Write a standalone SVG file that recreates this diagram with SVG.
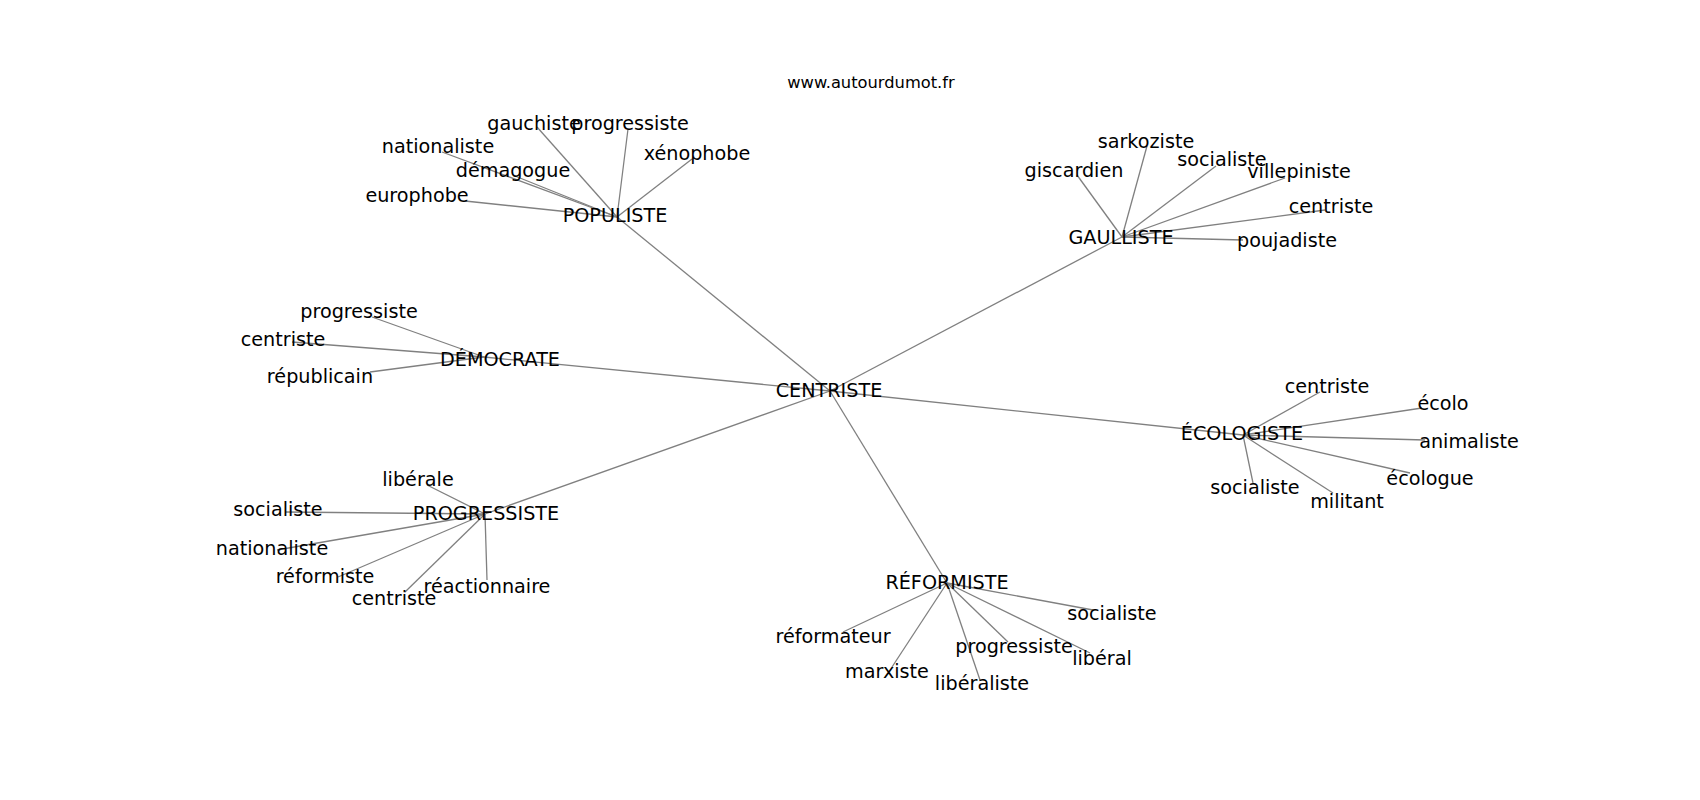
<svg xmlns="http://www.w3.org/2000/svg" width="1700" height="800" viewBox="0 0 1700 800">
<style>
text{font-family:"DejaVu Sans","Liberation Sans",sans-serif;font-size:19.2px;fill:#000;text-anchor:middle}
.title{font-size:16.3px}
#edges line{stroke:#808080;stroke-width:1.3}
</style>
<rect width="1700" height="800" fill="#fff"/>
<text class="title" x="871" y="88">www.autourdumot.fr</text>
<g id="edges">
<line x1="830" y1="391" x2="617" y2="217"/>
<line x1="830" y1="391" x2="1122" y2="237"/>
<line x1="830" y1="391" x2="484" y2="357"/>
<line x1="830" y1="391" x2="1243" y2="435"/>
<line x1="830" y1="391" x2="485" y2="514"/>
<line x1="830" y1="391" x2="947" y2="583"/>
<line x1="617" y1="217" x2="537" y2="127"/>
<line x1="617" y1="217" x2="628" y2="129"/>
<line x1="617" y1="217" x2="442" y2="152"/>
<line x1="617" y1="217" x2="692" y2="159"/>
<line x1="617" y1="217" x2="515" y2="176"/>
<line x1="617" y1="217" x2="465" y2="201"/>
<line x1="1122" y1="237" x2="1147" y2="146"/>
<line x1="1122" y1="237" x2="1077" y2="175"/>
<line x1="1122" y1="237" x2="1216" y2="166"/>
<line x1="1122" y1="237" x2="1285" y2="178"/>
<line x1="1122" y1="237" x2="1325" y2="210"/>
<line x1="1122" y1="237" x2="1243" y2="240"/>
<line x1="484" y1="357" x2="372" y2="317"/>
<line x1="484" y1="357" x2="292" y2="342"/>
<line x1="484" y1="357" x2="370" y2="372"/>
<line x1="1243" y1="435" x2="1320" y2="392"/>
<line x1="1243" y1="435" x2="1422" y2="408"/>
<line x1="1243" y1="435" x2="1425" y2="440"/>
<line x1="1243" y1="435" x2="1410" y2="473"/>
<line x1="1243" y1="435" x2="1333" y2="493"/>
<line x1="1243" y1="435" x2="1253" y2="483"/>
<line x1="485" y1="514" x2="427" y2="485"/>
<line x1="485" y1="514" x2="285" y2="512"/>
<line x1="485" y1="514" x2="277" y2="550"/>
<line x1="485" y1="514" x2="338" y2="577"/>
<line x1="485" y1="514" x2="405" y2="592"/>
<line x1="485" y1="514" x2="487" y2="580"/>
<line x1="947" y1="583" x2="1093" y2="610"/>
<line x1="947" y1="583" x2="843" y2="632"/>
<line x1="947" y1="583" x2="1008" y2="642"/>
<line x1="947" y1="583" x2="1090" y2="653"/>
<line x1="947" y1="583" x2="892" y2="667"/>
<line x1="947" y1="583" x2="980" y2="680"/>
</g>
<g id="n-centriste"><text x="829" y="397">CENTRISTE</text></g>
<g id="n-populiste"><text x="615" y="222">POPULISTE</text></g>
<g id="n-gaulliste"><text x="1121" y="244">GAULLISTE</text></g>
<g id="n-democrate"><text x="500" y="366">DÉMOCRATE</text></g>
<g id="n-ecologiste"><text x="1242" y="440">ÉCOLOGISTE</text></g>
<g id="n-progressiste"><text x="486" y="520">PROGRESSISTE</text></g>
<g id="n-reformiste"><text x="947" y="589">RÉFORMISTE</text></g>
<g id="p-gauchiste"><text x="534" y="130">gauchiste</text></g>
<g id="p-progressiste"><text x="630" y="130">progressiste</text></g>
<g id="p-nationaliste"><text x="438" y="153">nationaliste</text></g>
<g id="p-xenophobe"><text x="697" y="160">xénophobe</text></g>
<g id="p-demagogue"><text x="513" y="177">démagogue</text></g>
<g id="p-europhobe"><text x="417" y="202">europhobe</text></g>
<g id="g-sarkoziste"><text x="1146" y="148">sarkoziste</text></g>
<g id="g-giscardien"><text x="1074" y="177">giscardien</text></g>
<g id="g-socialiste"><text x="1222" y="166">socialiste</text></g>
<g id="g-villepiniste"><text x="1299" y="178">villepiniste</text></g>
<g id="g-centriste"><text x="1331" y="213">centriste</text></g>
<g id="g-poujadiste"><text x="1287" y="247">poujadiste</text></g>
<g id="d-progressiste"><text x="359" y="318">progressiste</text></g>
<g id="d-centriste"><text x="283" y="346">centriste</text></g>
<g id="d-republicain"><text x="320" y="383">républicain</text></g>
<g id="e-centriste"><text x="1327" y="393">centriste</text></g>
<g id="e-ecolo"><text x="1443" y="410">écolo</text></g>
<g id="e-animaliste"><text x="1469" y="448">animaliste</text></g>
<g id="e-ecologue"><text x="1430" y="485">écologue</text></g>
<g id="e-militant"><text x="1347" y="508">militant</text></g>
<g id="e-socialiste"><text x="1255" y="494">socialiste</text></g>
<g id="r-liberale"><text x="418" y="486">libérale</text></g>
<g id="r-socialiste"><text x="278" y="516">socialiste</text></g>
<g id="r-nationaliste"><text x="272" y="555">nationaliste</text></g>
<g id="r-reformiste"><text x="325" y="583">réformiste</text></g>
<g id="r-centriste"><text x="394" y="605">centriste</text></g>
<g id="r-reactionnaire"><text x="487" y="593">réactionnaire</text></g>
<g id="f-socialiste"><text x="1112" y="620">socialiste</text></g>
<g id="f-reformateur"><text x="833" y="643">réformateur</text></g>
<g id="f-progressiste"><text x="1014" y="653">progressiste</text></g>
<g id="f-liberal"><text x="1102" y="665">libéral</text></g>
<g id="f-marxiste"><text x="887" y="678">marxiste</text></g>
<g id="f-liberaliste"><text x="982" y="690">libéraliste</text></g>
</svg>
